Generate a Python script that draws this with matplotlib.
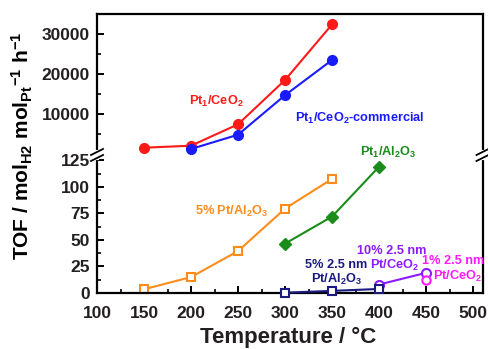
import matplotlib
matplotlib.use("Agg")
import matplotlib.pyplot as plt
from matplotlib.ticker import MultipleLocator, FixedLocator
from matplotlib.lines import Line2D

plt.rcParams['font.family'] = ['Liberation Sans', 'DejaVu Sans']
plt.rcParams['font.weight'] = 'bold'
plt.rcParams['mathtext.fontset'] = 'custom'
plt.rcParams['mathtext.rm'] = 'Liberation Sans:bold'
plt.rcParams['mathtext.it'] = 'Liberation Sans:bold'
plt.rcParams['mathtext.bf'] = 'Liberation Sans:bold'

# Upper panel (large TOF)
t_pt1_ceo2 = [150, 200, 250, 300, 350]
v_pt1_ceo2 = [1575, 2075, 7425, 18500, 32400]
t_pt1_ceo2_com = [200, 250, 300, 350]
v_pt1_ceo2_com = [1250, 4825, 14700, 23500]

# Lower panel (small TOF)
t_5pt_al = [150, 200, 250, 300, 350]
v_5pt_al = [3.5, 15, 39.5, 79.5, 107.5]
t_pt1_al = [300, 350, 400]
v_pt1_al = [46.5, 72, 119]
t_5pt25_al = [300, 350, 400]
v_5pt25_al = [0.3, 2, 3.8]
t_10pt25_ce = [400, 450]
v_10pt25_ce = [8, 19]
t_1pt25_ce = [450]
v_1pt25_ce = [12]

x_ticks = [100, 150, 200, 250, 300, 350, 400, 450, 500]
upper_ticks = [10000, 20000, 30000]
lower_ticks = [0, 25, 50, 75, 100, 125]

W, H = 488, 349
fig = plt.figure(figsize=(W/100, H/100), dpi=100)

left = 97 / W
right = 482.5 / W
bot = (H - 293) / H
brk = (H - 155) / H
top = (H - 14) / H

ax_u = fig.add_axes([left, brk, right - left, top - brk])
ax_l = fig.add_axes([left, bot, right - left, brk - bot])

tickcol = '#231f20'
for ax in (ax_u, ax_l):
    ax.set_xlim(100, 510)
    for s in ax.spines.values():
        s.set_linewidth(1.6)
        s.set_color('black')
    ax.tick_params(direction='in', length=5, width=1.4, labelsize=12.5,
                   labelcolor=tickcol, top=False, right=False, pad=5)
    ax.tick_params(which='minor', direction='in', length=3, width=1.2,
                   top=False, right=False)

ax_u.set_ylim(-250, 35000)
ax_u.spines['bottom'].set_visible(False)
ax_u.tick_params(axis='x', which='both', bottom=False, labelbottom=False)
ax_u.yaxis.set_major_locator(FixedLocator(upper_ticks))
ax_u.yaxis.set_minor_locator(FixedLocator([5000, 15000, 25000]))

ax_l.set_ylim(0, 130)
ax_l.spines['top'].set_visible(False)
ax_l.yaxis.set_major_locator(FixedLocator(lower_ticks))
ax_l.yaxis.set_minor_locator(FixedLocator([12.5, 37.5, 62.5, 87.5, 112.5]))
ax_l.xaxis.set_major_locator(FixedLocator(x_ticks))
ax_l.xaxis.set_minor_locator(MultipleLocator(25))
ax_l.tick_params(axis='x', pad=9)

for lab in ax_l.get_xticklabels() + ax_l.get_yticklabels() + ax_u.get_yticklabels():
    lab.set_fontweight('bold')

lw = 1.5
ms = 7
red = '#ff1a1a'
blue = '#1a1aff'
green = '#1a8c1a'
orange = '#ff8c1a'
navy = '#1a1a80'
purple = '#8c1aff'
magenta = '#ff1aff'

ax_u.plot(t_pt1_ceo2, v_pt1_ceo2, '-o', color=red, lw=lw, ms=ms, clip_on=False)
ax_u.plot(t_pt1_ceo2_com, v_pt1_ceo2_com, '-o', color=blue, lw=lw, ms=ms, clip_on=False)

ax_l.plot(t_5pt_al, v_5pt_al, '-s', color=orange, lw=lw, ms=6, mfc='white',
          mew=1.5, clip_on=False)
ax_l.plot(t_pt1_al, v_pt1_al, '-D', color=green, lw=lw, ms=6, clip_on=False)
ax_l.plot(t_5pt25_al, v_5pt25_al, '-s', color=navy, lw=lw, ms=5.5, mfc='white',
          mew=1.5, clip_on=False, zorder=4)
ax_l.plot(t_10pt25_ce, v_10pt25_ce, '-o', color=purple, lw=lw, ms=6.5, mfc='white',
          mew=1.5, clip_on=False)
ax_l.plot(t_1pt25_ce, v_1pt25_ce, 'o', color=magenta, ms=6, mfc='white',
          mew=1.5, clip_on=False)

fs = 9.2
def ftext(px, py, s, c, ha='center'):
    fig.text(px / W, 1 - py / H, s, color=c, fontsize=fs, fontweight='bold',
             ha=ha, va='center')

ftext(216, 101, r'Pt$_1$/CeO$_2$', red)
ftext(360, 118, r'Pt$_1$/CeO$_2$-commercial', blue)
ftext(388, 152, r'Pt$_1$/Al$_2$O$_3$', green)
ftext(232, 211, r'5% Pt/Al$_2$O$_3$', orange)
ftext(392, 251, '10% 2.5 nm', purple)
ftext(395, 265, r'Pt/CeO$_2$', purple)
ftext(336, 265, '5% 2.5 nm', navy)
ftext(337, 279, r'Pt/Al$_2$O$_3$', navy)
ftext(453, 261, '1% 2.5 nm', magenta)
ftext(458, 276, r'Pt/CeO$_2$', magenta)

fig.text(288 / W, 1 - 337 / H, 'Temperature / \u00b0C', fontsize=16,
         fontweight='bold', ha='center', va='center', color=tickcol)
fig.text(22 / W, 1 - 146 / H, r'TOF / mol$_{\mathregular{H2}}$ mol$_{\mathregular{Pt}}$$^{\mathregular{-1}}$ h$^{\mathregular{-1}}$',
         fontsize=15, fontweight='bold', ha='center', va='center',
         rotation=90, color='black')

# break marks
ybrk = 1 - 155 / H
for xb in (left, right):
    dx = 6 / W
    dy = 3 / H
    gap = 3 / H
    fig.add_artist(Line2D([xb, xb], [ybrk - gap, ybrk + gap], color='white',
                          lw=3, transform=fig.transFigure))
    for off in (-gap, gap):
        fig.add_artist(Line2D([xb - dx, xb + dx], [ybrk + off - dy, ybrk + off + dy],
                              color='black', lw=1.3, transform=fig.transFigure))

fig.savefig('out.png', dpi=100)
